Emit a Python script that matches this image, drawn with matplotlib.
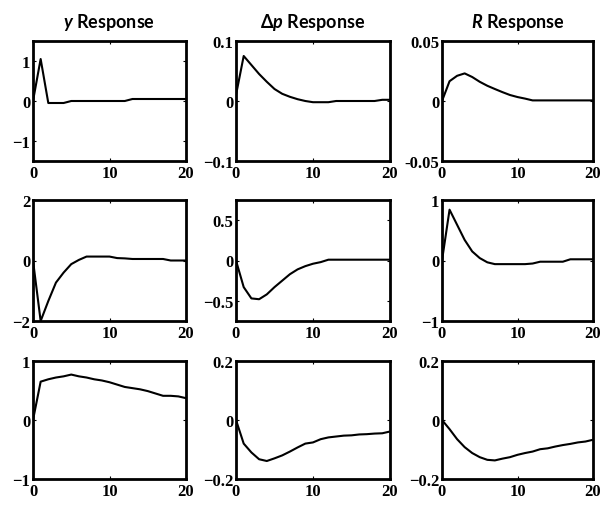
import numpy as np
import matplotlib
matplotlib.use('Agg')
import matplotlib.pyplot as plt

# horizon 0..20
steps = np.arange(21)

titles = [r'$y$ Response', r'$\Delta p$ Response', r'$R$ Response']

# row 1: responses to y shock
y_y = [0, 1.05, -0.05, -0.05, -0.05, 0, 0, 0, 0, 0, 0, 0, 0, 0.05, 0.05, 0.05, 0.05, 0.05, 0.05, 0.05, 0.05]
dp_y = [0.01, 0.075, 0.06, 0.045, 0.032, 0.02, 0.012, 0.007, 0.003, 0, -0.002, -0.002, -0.002, 0, 0, 0, 0, 0, 0, 0.002, 0.002]
r_y = [0, 0.0165, 0.021, 0.023, 0.020, 0.016, 0.0127, 0.010, 0.0074, 0.005, 0.0033, 0.002, 0.0005,
       0.0005, 0.0005, 0.0005, 0.0005, 0.0005, 0.0005, 0.0005, 0.0005]

# row 2: responses to dp shock
y_dp = [0, -2.0, -1.34, -0.73, -0.4, -0.12, 0.02, 0.13, 0.13, 0.13, 0.13, 0.08, 0.07, 0.05, 0.05, 0.05,
        0.05, 0.05, 0.0, 0.0, 0.0]
dp_dp = [0, -0.33, -0.47, -0.48, -0.42, -0.33, -0.25, -0.17, -0.11, -0.07, -0.04, -0.02, 0.01, 0.01, 0.01,
         0.01, 0.01, 0.01, 0.01, 0.01, 0.01]
r_dp = [0, 0.84, 0.59, 0.34, 0.15, 0.04, -0.03, -0.06, -0.06, -0.06, -0.06, -0.06, -0.05, -0.02, -0.02,
        -0.02, -0.02, 0.02, 0.02, 0.02, 0.02]

# row 3: responses to R shock
y_r = [0, 0.65, 0.69, 0.72, 0.74, 0.77, 0.74, 0.72, 0.69, 0.67, 0.64, 0.60, 0.56, 0.54, 0.52, 0.49, 0.45,
       0.41, 0.41, 0.40, 0.37]
dp_r = [0, -0.08, -0.11, -0.133, -0.139, -0.13, -0.12, -0.107, -0.093, -0.08, -0.076, -0.065, -0.059, -0.056,
        -0.053, -0.052, -0.049, -0.048, -0.046, -0.045, -0.039]
r_r = [0, -0.031, -0.065, -0.092, -0.112, -0.126, -0.135, -0.137, -0.131, -0.126, -0.118, -0.112, -0.107,
       -0.099, -0.096, -0.090, -0.085, -0.081, -0.076, -0.073, -0.067]

series = [[y_y, dp_y, r_y], [y_dp, dp_dp, r_dp], [y_r, dp_r, r_r]]
ylims = [[(-1.5, 1.5), (-0.1, 0.1), (-0.05, 0.05)],
         [(-2, 2), (-0.75, 0.75), (-1, 1)],
         [(-1, 1), (-0.2, 0.2), (-0.2, 0.2)]]
yticks = [[[-1, 0, 1], [-0.1, 0, 0.1], [-0.05, 0, 0.05]],
          [[-2, 0, 2], [-0.5, 0, 0.5], [-1, 0, 1]],
          [[-1, 0, 1], [-0.2, 0, 0.2], [-0.2, 0, 0.2]]]
ylabels = [[['\u22121', '0', '1'], ['\u22120.1', '0', '0.1'], ['-0.05', '0', '0.05']],
           [['\u22122', '0', '2'], ['\u22120.5', '0', '0.5'], ['\u22121', '0', '1']],
           [['\u22121', '0', '1'], ['\u22120.2', '0', '0.2'], ['\u22120.2', '0', '0.2']]]

plt.rcParams['mathtext.fontset'] = 'custom'
plt.rcParams['mathtext.rm'] = 'Lato:bold'
plt.rcParams['mathtext.it'] = 'Lato:italic:bold'
plt.rcParams['mathtext.bf'] = 'Lato:bold'

W, H = 602, 506
fig = plt.figure(figsize=(W / 100, H / 100), dpi=100)

lefts = [33, 236, 442]
rights = [186, 390, 593]
tops = [42, 201, 362]
bottoms = [162, 322, 480]

tickfont = dict(family='Liberation Serif', weight='bold', size=12)

for i in range(3):
    for j in range(3):
        ax = fig.add_axes([lefts[j] / W, 1 - bottoms[i] / H,
                           (rights[j] - lefts[j]) / W, (bottoms[i] - tops[i]) / H])
        ax.plot(steps, series[i][j], color='black', lw=1.5)
        ax.set_xlim(0, 20)
        ax.set_ylim(*ylims[i][j])
        ax.set_xticks([0, 10, 20])
        ax.set_xticklabels(['0', '10', '20'], fontdict=tickfont)
        ax.set_yticks(yticks[i][j])
        ax.set_yticklabels(ylabels[i][j], fontdict=tickfont)
        ax.tick_params(direction='in', length=2, width=0.8, top=True, right=True)
        ax.tick_params(axis='x', pad=3)
        ax.tick_params(axis='y', pad=2)
        for s in ax.spines.values():
            s.set_linewidth(2)
        if i == 0:
            ax.set_title(titles[j], fontsize=13, fontfamily='Lato', fontweight='bold', pad=10)

fig.savefig('out.png', dpi=100)
